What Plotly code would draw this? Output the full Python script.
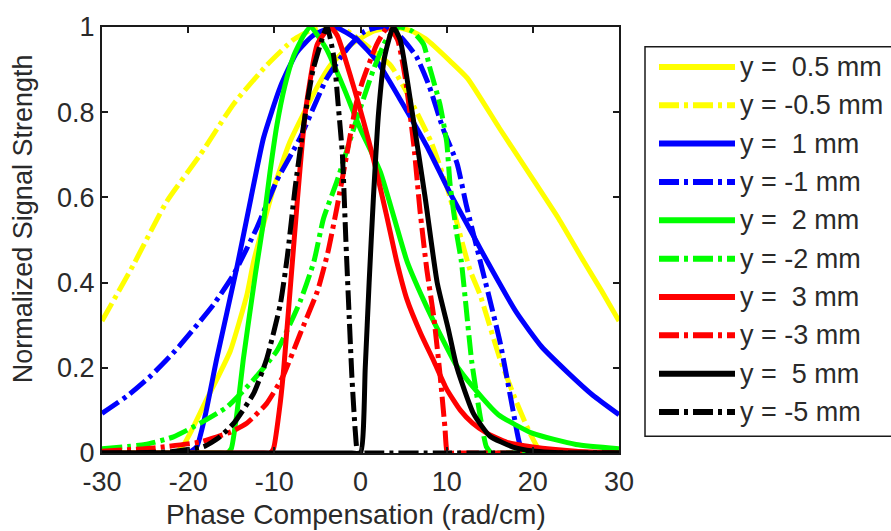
import plotly.graph_objects as go

# ---- data: normalized signal strength vs. phase compensation (rad/cm) ----
x_p05 = [-30, -25, -22.5, -21.5, -20.5, -19.6, -18, -16.5, -15.1, -13.2, -12.4, -10.1, -8.2, -5, -3.5, -1, 1.5, 4, 6, 7.7, 10.4, 12.4, 16.2, 20.1, 23, 25.9, 28, 30]
y_p05 = [0, 0, 0, 0, 0.02, 0.053, 0.12, 0.18, 0.24, 0.37, 0.45, 0.62, 0.73, 0.86, 0.91, 0.96, 0.99, 1.0, 0.99, 0.97, 0.92, 0.88, 0.76, 0.64, 0.55, 0.45, 0.38, 0.31]

x_m05 = [-30, -26.4, -22.5, -18.6, -14.7, -10.9, -7.8, -6, -4, -1.5, 0.5, 3.5, 5, 8.2, 10.1, 12.7, 13.9, 16.2, 18.1, 19.7, 21, 22, 25, 30]
y_m05 = [0.31, 0.44, 0.59, 0.70, 0.82, 0.91, 0.97, 0.99, 1.0, 0.99, 0.96, 0.91, 0.86, 0.73, 0.62, 0.43, 0.37, 0.22, 0.12, 0.045, 0.0, 0, 0, 0]

x_p1 = [-30, -25, -21, -20, -19, -18, -16.7, -14.3, -12.7, -11.25, -9.3, -7.4, -5.5, -3, -0.4, 1.9, 4.6, 7.7, 10.4, 13.1, 14.7, 18.1, 21, 24, 27, 30]
y_p1 = [0, 0, 0, 0, 0.015, 0.09, 0.22, 0.44, 0.6, 0.74, 0.86, 0.94, 0.98, 1.0, 0.97, 0.92, 0.83, 0.72, 0.61, 0.51, 0.45, 0.33, 0.25, 0.19, 0.135, 0.09]

x_m1 = [-30, -27, -24.4, -21.5, -19.4, -17, -14.7, -12, -9.7, -7, -3.9, -1.5, 0.5, 2.5, 4.5, 6.5, 8, 9.6, 11.2, 12.3, 13.9, 16.2, 17.7, 18.5, 19.2, 20, 25, 30]
y_m1 = [0.093, 0.135, 0.18, 0.24, 0.29, 0.35, 0.42, 0.53, 0.64, 0.74, 0.88, 0.95, 0.99, 1.0, 0.98, 0.93, 0.86, 0.76, 0.68, 0.58, 0.45, 0.26, 0.10, 0.02, 0.0, 0, 0, 0]

x_p2 = [-30, -20, -16.5, -15.5, -15, -14.3, -13.6, -12.2, -11.2, -10.5, -9.7, -8.8, -7.8, -6.6, -5.8, -4, -2, 0, 2.3, 5.4, 7.3, 9.2, 11, 13.1, 16, 20, 25, 30]
y_p2 = [0, 0, 0, 0, 0.01, 0.1, 0.22, 0.42, 0.55, 0.66, 0.77, 0.86, 0.93, 0.98, 1.0, 0.95, 0.86, 0.76, 0.66, 0.45, 0.36, 0.28, 0.21, 0.154, 0.09, 0.046, 0.02, 0.01]

x_m2 = [-30, -25, -21.7, -18.6, -15.5, -12.5, -9.7, -7, -5.4, -4.3, -2.7, -0.5, 1.5, 3, 4.5, 6, 7.3, 8.1, 9.2, 10, 10.4, 11.2, 11.7, 12.9, 13.9, 14.6, 15.2, 16, 20, 30]
y_m2 = [0.01, 0.02, 0.038, 0.07, 0.108, 0.17, 0.24, 0.356, 0.45, 0.55, 0.64, 0.78, 0.9, 0.97, 1.0, 0.99, 0.96, 0.9, 0.82, 0.73, 0.63, 0.51, 0.45, 0.216, 0.085, 0.015, 0, 0, 0, 0]

x_p3 = [-30, -20, -11.5, -10.5, -10.1, -9.3, -8.9, -8.1, -7.3, -6.4, -5, -3.5, -2.7, -0.8, 1.5, 3, 4.2, 5.4, 7, 8.5, 10, 11.6, 13, 14.7, 17, 20, 25, 30]
y_p3 = [0, 0, 0, 0, 0.01, 0.12, 0.2, 0.4, 0.6, 0.8, 0.96, 1.0, 0.98, 0.86, 0.69, 0.56, 0.45, 0.36, 0.28, 0.216, 0.15, 0.1, 0.07, 0.046, 0.025, 0.014, 0.004, 0]

x_m3 = [-30, -24, -18.6, -15, -13.2, -10.9, -9, -7, -5, -3.8, -2.7, -1.6, -0.5, 0.2, 1.9, 3.2, 4.3, 5.2, 6.2, 6.9, 7.7, 8.5, 9.25, 9.8, 10.1, 11, 20, 30]
y_m3 = [0.004, 0.012, 0.026, 0.05, 0.07, 0.116, 0.18, 0.28, 0.38, 0.47, 0.58, 0.70, 0.82, 0.87, 0.96, 1.0, 0.97, 0.88, 0.72, 0.57, 0.43, 0.32, 0.18, 0.06, 0.0, 0, 0, 0]

x_p5 = [-30, -10, -1, 0, 0.55, 1.0, 1.5, 2.1, 2.8, 3.8, 4.6, 6.0, 7.5, 8.9, 10.2, 11.2, 13.1, 15, 17.7, 20, 25, 30]
y_p5 = [0, 0, 0, 0, 0.2, 0.4, 0.6, 0.8, 0.93, 1.0, 0.97, 0.8, 0.6, 0.4, 0.29, 0.2, 0.093, 0.04, 0.014, 0.005, 0, 0]

x_m5 = [-30, -22, -18.2, -16.5, -14.7, -12.4, -10.9, -9.3, -8.5, -7.6, -6.6, -5.5, -3.9, -3.1, -2.6, -2.1, -1.7, -1.4, -1.0, -0.6, -0.3, 0.7, 10, 30]
y_m5 = [0, 0.003, 0.015, 0.035, 0.07, 0.14, 0.22, 0.35, 0.46, 0.62, 0.77, 0.9, 1.0, 0.93, 0.82, 0.7, 0.5, 0.36, 0.18, 0.05, 0, 0, 0, 0]

labels = ["y = \u00a00.5 mm", "y = -0.5 mm", "y = \u00a01 mm", "y = -1 mm", "y = \u00a02 mm",
          "y = -2 mm", "y = \u00a03 mm", "y = -3 mm", "y = \u00a05 mm", "y = -5 mm"]
xs = [x_p05, x_m05, x_p1, x_m1, x_p2, x_m2, x_p3, x_m3, x_p5, x_m5]
ys = [y_p05, y_m05, y_p1, y_m1, y_p2, y_m2, y_p3, y_m3, y_p5, y_m5]
colors = ["#FFFF00", "#FFFF00", "#0000FF", "#0000FF", "#00FF00",
          "#00FF00", "#FF0000", "#FF0000", "#000000", "#000000"]
DASHDOT = "20px,5px,4px,5px"
dashes = ["solid", DASHDOT] * 5

# ---- figure geometry (pixels) ----
W, H = 891, 531
L, R, T, B = 102, 619, 23, 453
FONT = "Liberation Sans, Arial, sans-serif"
TXT = "#2a2a2a"


def px(xp):
    return (xp - L) / (R - L)


def py(yp):
    return (B - yp) / (B - T)


fig = go.Figure()
for xv, yv, c, d, name in zip(xs, ys, colors, dashes, labels):
    fig.add_trace(go.Scatter(x=xv, y=yv, mode="lines", name=name,
                             line=dict(color=c, width=5, dash=d, shape="spline", smoothing=0.5),
                             showlegend=False))

axis_common = dict(showline=True, linecolor="#1a1a1a", linewidth=2, mirror="ticks",
                   ticks="inside", ticklen=6, tickwidth=1.5, tickcolor="#1a1a1a",
                   showgrid=False, zeroline=False,
                   tickfont=dict(family=FONT, size=27, color=TXT))

fig.update_layout(
    width=W, height=H,
    margin=dict(l=L, r=W - R, t=T, b=H - B, pad=0),
    paper_bgcolor="white", plot_bgcolor="white",
    xaxis=dict(range=[-30, 30], tickvals=[-30, -20, -10, 0, 10, 20, 30],
               ticktext=["-30", "-20", "-10", "0", "10", "20", "30"],
               ticklabelstandoff=4, **axis_common),
    yaxis=dict(range=[0, 1], tickvals=[0, 0.2, 0.4, 0.6, 0.8, 1],
               ticktext=["0", "0.2", "0.4", "0.6", "0.8", "1"], **axis_common),
)

# axis titles
fig.add_annotation(text="Phase Compensation (rad/cm)", xref="paper", yref="paper",
                   x=px(356), y=py(515), xanchor="center", yanchor="middle",
                   showarrow=False, font=dict(family=FONT, size=28, color=TXT))
fig.add_annotation(text="Normalized Signal Strength", xref="paper", yref="paper",
                   x=px(23), y=py(217), xanchor="center", yanchor="middle", textangle=-90,
                   showarrow=False, font=dict(family=FONT, size=27, color=TXT))

# legend box
fig.add_shape(type="rect", xref="paper", yref="paper",
              x0=px(645), x1=px(905), y0=py(436), y1=py(43),
              line=dict(color="#1a1a1a", width=1.5), fillcolor="white", layer="above")
row0, row_step = 63.3, 38.7
for i, (c, d, name) in enumerate(zip(colors, dashes, labels)):
    yr = row0 + i * row_step
    fig.add_shape(type="line", xref="paper", yref="paper",
                  x0=px(659), x1=px(735), y0=py(yr), y1=py(yr),
                  line=dict(color=c, width=6, dash=d), layer="above")
    fig.add_annotation(text=name, xref="paper", yref="paper",
                       x=px(738), y=py(yr), xanchor="left", yanchor="middle",
                       showarrow=False, font=dict(family=FONT, size=27, color=TXT))

fig.write_html("out.html")
